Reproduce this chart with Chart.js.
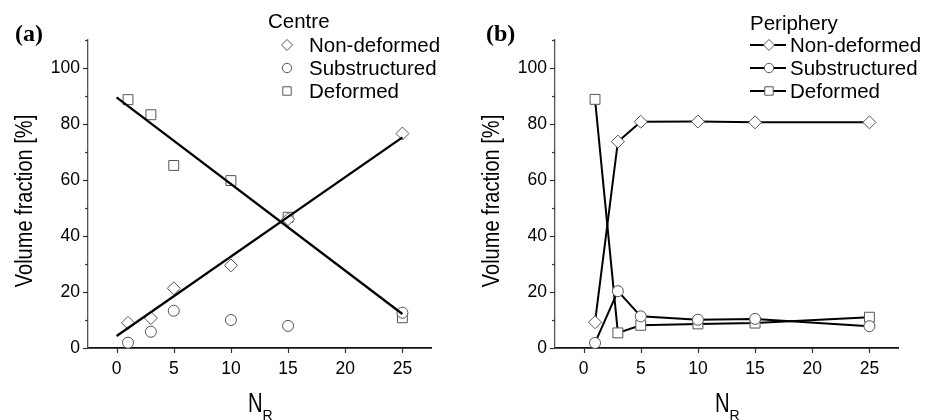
<!DOCTYPE html>
<html>
<head>
<meta charset="utf-8">
<title>Volume fraction vs N_R</title>
<script src="https://cdn.jsdelivr.net/npm/chart.js@4.4.0/dist/chart.umd.min.js"></script>
<style>
  body { margin: 0; background: #fff; }
  #wrap { position: relative; width: 934px; height: 420px; overflow: hidden; }
  .panel { position: absolute; top: 0; width: 467px; height: 420px; }
</style>
</head>
<body>
<div id="wrap">
  <div class="panel" style="left:0"><canvas id="centre" width="467" height="420"></canvas></div>
  <div class="panel" style="left:467px"><canvas id="periphery" width="467" height="420"></canvas></div>
</div>
<script>
// number of passes N_R
const passes = [1, 3, 5, 10, 15, 25];

// centre of the sample, volume fraction [%]
const centreNonDeformed = [9.0, 10.7, 21.3, 29.5, 46.0, 76.6];
const centreSubstructured = [1.9, 5.8, 13.3, 10.0, 7.9, 12.6];
const centreDeformed = [88.7, 83.3, 65.2, 59.8, 46.7, 10.8];

// periphery of the sample, volume fraction [%]
const periNonDeformed = [9.2, 73.7, 80.8, 80.9, 80.6, 80.6];
const periSubstructured = [1.8, 20.3, 11.3, 10.1, 10.4, 7.8];
const periDeformed = [88.8, 5.4, 8.1, 8.6, 8.9, 11.0];

const xTicks = [0, 5, 10, 15, 20, 25];
const yTicks = [0, 20, 40, 60, 80, 100];
const yMinorTicks = [10, 30, 50, 70, 90, 110];
const seriesNames = ['Non-deformed', 'Substructured', 'Deformed'];

const toPoints = ys => passes.map((x, i) => ({ x: x, y: ys[i] }));

// least squares straight line through a series, drawn over 0..25
function linearFit(ys) {
  const n = passes.length;
  const mx = passes.reduce((a, b) => a + b, 0) / n;
  const my = ys.reduce((a, b) => a + b, 0) / n;
  let sxy = 0, sxx = 0;
  passes.forEach((x, i) => { sxy += (x - mx) * (ys[i] - my); sxx += (x - mx) * (x - mx); });
  const k = sxy / sxx, b = my - k * mx;
  return [0, 25].map(x => ({ x: x, y: b + k * x }));
}

const markers = [
  { pointStyle: 'rectRot', radius: 6.5 },
  { pointStyle: 'circle', radius: 5.5 },
  { pointStyle: 'rect', radius: 7 }
];
const MARK = '#555';
const SANS = '"Liberation Sans", Arial, sans-serif';

// axis ticks, titles, panel letter and legend
const panelDecor = {
  id: 'panelDecor',
  afterDraw(chart, args, opts) {
    const ctx = chart.ctx, xs = chart.scales.x, ys = chart.scales.y, area = chart.chartArea;
    ctx.save();
    ctx.strokeStyle = '#333';
    ctx.lineWidth = 1.2;
    const seg = (x1, y1, x2, y2) => { ctx.beginPath(); ctx.moveTo(x1, y1); ctx.lineTo(x2, y2); ctx.stroke(); };
    yTicks.forEach(v => { const p = Math.round(ys.getPixelForValue(v)) + 0.5; seg(area.left - 5, p, area.left, p); });
    yMinorTicks.forEach(v => { const p = Math.round(ys.getPixelForValue(v)) + 0.5; seg(area.left - 3, p, area.left, p); });
    xTicks.forEach(v => { const p = Math.round(xs.getPixelForValue(v)) + 0.5; seg(p, area.bottom, p, area.bottom + 5); });

    ctx.fillStyle = '#000';
    // panel letter
    ctx.font = 'bold 24px "Liberation Serif", "Times New Roman", serif';
    ctx.textAlign = 'left';
    ctx.textBaseline = 'alphabetic';
    ctx.fillText(opts.letter, opts.letterX, 41);

    // y axis title, slightly condensed
    ctx.save();
    ctx.translate(26, 201);
    ctx.rotate(-Math.PI / 2);
    ctx.scale(0.87, 1);
    ctx.font = '23px ' + SANS;
    ctx.textAlign = 'center';
    ctx.textBaseline = 'middle';
    ctx.fillText('Volume fraction [%]', 0, 0);
    ctx.restore();

    // x axis title N_R
    const cx = (area.left + area.right) / 2;
    ctx.save();
    ctx.translate(cx - 11.5, 412);
    ctx.scale(0.75, 1);
    ctx.font = '27px ' + SANS;
    ctx.fillText('N', 0, 0);
    ctx.restore();
    ctx.font = '14px ' + SANS;
    ctx.fillText('R', cx + 3, 420);

    // legend
    const lg = opts.legend;
    ctx.font = '20.5px ' + SANS;
    ctx.fillText(lg.title, lg.titleX, lg.titleY);
    seriesNames.forEach((name, i) => {
      const y = 52 + 23 * i;
      const my = y - 7;
      if (lg.withLine) {
        ctx.strokeStyle = '#000';
        ctx.lineWidth = 2;
        seg(lg.lineX1, my, lg.lineX2, my);
      }
      ctx.strokeStyle = MARK;
      ctx.fillStyle = '#fff';
      ctx.lineWidth = 1;
      Chart.helpers.drawPoint(ctx, { pointStyle: markers[i].pointStyle, radius: markers[i].radius * 0.85, rotation: 0, borderWidth: 1 }, lg.markX, my);
      ctx.fillStyle = '#000';
      ctx.fillText(name, lg.textX, y);
    });
    ctx.restore();
  }
};

function makeOptions(letter, letterX, legend) {
  return {
    responsive: false,
    animation: false,
    events: [],
    layout: { padding: { left: 0, top: 40, right: 36, bottom: 0 } },
    plugins: {
      legend: { display: false },
      tooltip: { enabled: false },
      panelDecor: { letter: letter, letterX: letterX, legend: legend }
    },
    scales: {
      x: {
        type: 'linear', min: -2.5, max: 27.5,
        afterFit: s => { s.height = 72; },
        afterBuildTicks: s => { s.ticks = xTicks.map(v => ({ value: v })); },
        grid: { display: false, drawTicks: true, tickLength: 5 },
        border: { display: true, color: '#111', width: 1.8 },
        ticks: { color: '#000', padding: 6, font: { family: SANS, size: 17.5 } }
      },
      y: {
        type: 'linear', min: 0, max: 110,
        afterFit: s => { s.width = 88; },
        afterBuildTicks: s => { s.ticks = yTicks.map(v => ({ value: v })); },
        grid: { display: false, drawTicks: true, tickLength: 5 },
        border: { display: true, color: '#555', width: 1.3 },
        ticks: { color: '#000', padding: 3, font: { family: SANS, size: 17.5 } }
      }
    }
  };
}

function markerSet(ys, i, withLine) {
  return {
    data: toPoints(ys),
    showLine: withLine,
    borderColor: '#000',
    borderWidth: 2,
    pointStyle: markers[i].pointStyle,
    pointRadius: markers[i].radius,
    pointBorderColor: MARK,
    pointBackgroundColor: '#fff',
    pointBorderWidth: 1,
    clip: false
  };
}

function fitSet(ys) {
  return { data: linearFit(ys), showLine: true, pointRadius: 0, borderColor: '#000', borderWidth: 2.3, clip: false };
}

new Chart(document.getElementById('centre'), {
  type: 'scatter',
  data: {
    datasets: [
      fitSet(centreNonDeformed),
      fitSet(centreDeformed),
      markerSet(centreNonDeformed, 0, false),
      markerSet(centreSubstructured, 1, false),
      markerSet(centreDeformed, 2, false)
    ]
  },
  options: makeOptions('(a)', 15, { title: 'Centre', titleX: 268, titleY: 28, withLine: false, markX: 287, textX: 309 }),
  plugins: [panelDecor]
});

new Chart(document.getElementById('periphery'), {
  type: 'scatter',
  data: {
    datasets: [
      markerSet(periNonDeformed, 0, true),
      markerSet(periSubstructured, 1, true),
      markerSet(periDeformed, 2, true)
    ]
  },
  options: makeOptions('(b)', 19, { title: 'Periphery', titleX: 283, titleY: 30, withLine: true, lineX1: 283, lineX2: 319, markX: 302, textX: 323 }),
  plugins: [panelDecor]
});
</script>
</body>
</html>
